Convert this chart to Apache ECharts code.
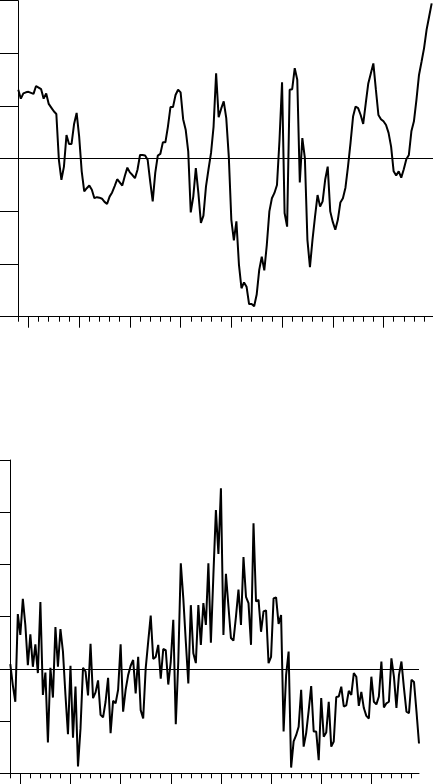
<!DOCTYPE html>
<html>
<head>
<meta charset="utf-8">
<script src="https://cdn.jsdelivr.net/npm/echarts@6/dist/echarts.min.js"></script>
<style>
html,body{margin:0;padding:0;background:#fff;overflow:hidden}
#c{width:433px;height:784px}
</style>
</head>
<body>
<div id="c"></div>
<script>
// Quarterly data, first observation 1959 Q1, last 1999 Q4
const startYear = 1959;

const topValues = [
  1.31, 1.14, 1.24, 1.26, 1.27, 1.25, 1.23, 1.38, 1.35, 1.32,
  1.14, 1.24, 1.04, 0.97, 0.90, 0.85, -0.02, -0.40, -0.15, 0.45,
  0.28, 0.28, 0.66, 0.87, 0.42, -0.24, -0.62, -0.56, -0.51, -0.59,
  -0.75, -0.73, -0.74, -0.76, -0.82, -0.86, -0.72, -0.64, -0.52, -0.39,
  -0.45, -0.51, -0.33, -0.17, -0.26, -0.31, -0.37, -0.21, 0.07, 0.07,
  0.06, -0.02, -0.43, -0.81, -0.27, 0.06, 0.09, 0.31, 0.31, 0.61,
  0.98, 0.98, 1.21, 1.31, 1.26, 0.75, 0.55, 0.14, -1.02, -0.72,
  -0.18, -0.65, -1.22, -1.08, -0.53, -0.20, 0.11, 0.61, 1.62, 0.79,
  0.95, 1.09, 0.77, 0.04, -1.16, -1.55, -1.19, -2.01, -2.46, -2.35,
  -2.43, -2.76, -2.76, -2.80, -2.58, -2.11, -1.86, -2.12, -1.63, -1.00,
  -0.75, -0.65, -0.50, 0.36, 1.45, -1.03, -1.29, 1.31, 1.32, 1.72,
  1.50, -0.45, 0.39, 0.01, -1.54, -2.06, -1.54, -1.10, -0.69, -0.91,
  -0.81, -0.40, -0.15, -1.00, -1.20, -1.35, -1.16, -0.83, -0.75, -0.55,
  -0.15, 0.30, 0.80, 0.99, 0.96, 0.83, 0.66, 1.05, 1.43, 1.62,
  1.81, 1.31, 0.83, 0.75, 0.71, 0.64, 0.49, 0.23, -0.24, -0.32,
  -0.24, -0.36, -0.20, -0.01, 0.07, 0.52, 0.71, 1.12, 1.59, 1.84,
  2.10, 2.45, 2.70, 2.95
];

const bottomValues = [
  0.09, -0.31, -0.63, 1.05, 0.65, 1.34, 0.84, 0.07, 0.66, 0.04,
  0.47, -0.08, 1.28, -0.50, -0.07, -1.41, 0.02, -0.55, 0.80, 0.04,
  0.76, 0.33, -0.50, -1.25, 0.06, -1.32, -0.34, -1.87, -1.14, 0.02,
  -0.05, -0.51, 0.48, -0.56, -0.45, -0.22, -0.88, -0.93, -0.63, -0.17,
  -1.23, -0.61, -0.66, -0.40, 0.47, -0.82, -0.40, -0.12, 0.06, 0.17,
  -0.47, 0.23, -0.79, -0.95, 0.01, 0.52, 1.02, 0.19, 0.23, 0.46,
  -0.19, 0.38, 0.36, -0.30, 0.14, 0.94, -1.06, 0.14, 2.02, 1.35,
  0.52, -0.28, 1.22, 0.30, 0.11, 1.22, 0.46, 1.26, 0.84, 2.02,
  0.50, 1.80, 3.04, 2.20, 3.46, 0.65, 1.82, 1.20, 0.59, 0.54,
  1.00, 1.52, 0.84, 2.14, 1.38, 1.26, 0.46, 2.79, 1.29, 1.32,
  0.71, 1.10, 1.12, 0.11, 0.23, 1.35, 1.37, 0.86, 1.03, -1.20,
  -0.12, 0.33, -1.89, -1.39, -1.27, -1.11, -0.40, -1.49, -1.23, -0.80,
  -0.33, -1.20, -1.20, -1.75, -0.56, -1.30, -1.22, -0.63, -1.49, -1.39,
  -0.54, -0.53, -0.34, -0.72, -0.70, -0.42, -0.50, -0.08, -0.15, -0.71,
  -0.44, -0.75, -0.90, -0.95, -0.15, -0.63, -0.68, -0.53, 0.14, -0.74,
  -0.66, -0.63, 0.20, -0.15, -0.75, -0.12, 0.14, -0.37, -0.82, -0.85,
  -0.21, -0.25, -0.82, -1.43
];

const majorTickYears = [1960, 1965, 1970, 1975, 1980, 1985, 1990, 1995];
const minorTickYears = [];
for (let y = 1959; y <= 1999; y++) minorTickYears.push(y);

const topYRange = [-3, 3];
const bottomYRange = [-2, 4];
const topXMax = 1999.88;
const bottomXMax = 1999.75;

function toPairs(vals) {
  return vals.map((v, i) => [startYear + i / 4, v]);
}

const black = '#000';

function majorX(gridIndex, max) {
  return {
    type: 'value', gridIndex: gridIndex, position: 'bottom',
    min: startYear, max: max,
    axisLine: { show: true, onZero: false, lineStyle: { color: black, width: 1 } },
    axisTick: { show: true, customValues: majorTickYears, length: 11, lineStyle: { color: black, width: 1 } },
    axisLabel: { show: false },
    splitLine: { show: false }
  };
}
function minorX(gridIndex, max) {
  return {
    type: 'value', gridIndex: gridIndex, position: 'bottom',
    min: startYear, max: max,
    axisLine: { show: false, onZero: false },
    axisTick: { show: true, customValues: minorTickYears, length: 5, lineStyle: { color: black, width: 1 } },
    axisLabel: { show: false },
    splitLine: { show: false }
  };
}
function yAx(gridIndex, range, tickLen) {
  return {
    type: 'value', gridIndex: gridIndex,
    min: range[0], max: range[1], interval: 1,
    axisLine: { show: true, onZero: false, lineStyle: { color: black, width: 1 } },
    axisTick: { show: true, length: tickLen, lineStyle: { color: black, width: 1 } },
    axisLabel: { show: false },
    splitLine: { show: false }
  };
}
function lineSeries(xi, yi, vals) {
  return {
    type: 'line', xAxisIndex: xi, yAxisIndex: yi,
    data: toPairs(vals),
    showSymbol: false, symbol: 'none',
    lineStyle: { color: black, width: 2 },
    z: 3,
    markLine: {
      silent: true, symbol: ['none', 'none'], label: { show: false },
      lineStyle: { color: black, width: 1, type: 'solid' },
      emphasis: { disabled: true },
      data: [{ yAxis: 0 }],
      z: 2
    }
  };
}

const chart = echarts.init(document.getElementById('c'), null, { renderer: 'canvas' });
chart.setOption({
  animation: false,
  backgroundColor: '#fff',
  grid: [
    { left: 18.3, top: 0.7, width: 414.7, height: 316 },
    { left: 10.3, top: 460, width: 408.7, height: 313.3 }
  ],
  xAxis: [
    majorX(0, topXMax), minorX(0, topXMax),
    majorX(1, bottomXMax), minorX(1, bottomXMax)
  ],
  yAxis: [
    yAx(0, topYRange, 20),
    yAx(1, bottomYRange, 12)
  ],
  series: [
    lineSeries(0, 0, topValues),
    lineSeries(2, 1, bottomValues)
  ]
});
</script>
</body>
</html>
